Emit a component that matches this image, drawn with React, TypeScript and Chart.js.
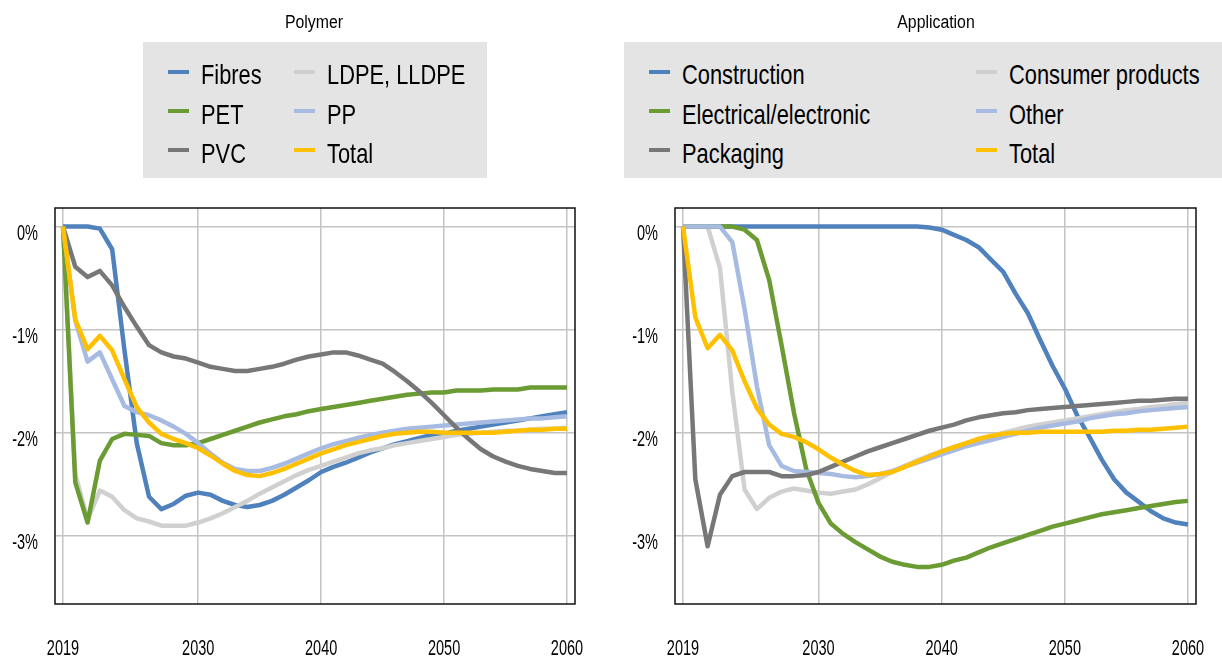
import React, { useEffect, useRef } from "react";
import { Chart, registerables } from "chart.js";

Chart.register(...registerables);

// ---------- data ----------
const years = [
  2019, 2020, 2021, 2022, 2023, 2024, 2025, 2026, 2027, 2028, 2029, 2030, 2031, 2032,
  2033, 2034, 2035, 2036, 2037, 2038, 2039, 2040, 2041, 2042, 2043, 2044, 2045, 2046,
  2047, 2048, 2049, 2050, 2051, 2052, 2053, 2054, 2055, 2056, 2057, 2058, 2059, 2060,
];
const xTickValues = [2019, 2030, 2040, 2050, 2060];
const yTickValues = [0, -1, -2, -3];

// Polymer panel
const fibres = [0, 0, 0, -0.02, -0.22, -1.2, -2.1, -2.62, -2.74, -2.69, -2.61, -2.58, -2.6, -2.66, -2.7, -2.72, -2.7, -2.66, -2.6, -2.53, -2.46, -2.38, -2.33, -2.29, -2.24, -2.19, -2.15, -2.11, -2.08, -2.05, -2.02, -2.01, -1.98, -1.96, -1.94, -1.92, -1.9, -1.88, -1.86, -1.84, -1.82, -1.8];
const ldpe = [0, -2.4, -2.84, -2.56, -2.62, -2.75, -2.83, -2.86, -2.9, -2.9, -2.9, -2.87, -2.83, -2.78, -2.72, -2.66, -2.59, -2.53, -2.47, -2.41, -2.36, -2.32, -2.28, -2.24, -2.2, -2.17, -2.15, -2.12, -2.1, -2.08, -2.06, -2.04, -2.02, -2.01, -2.0, -1.99, -1.98, -1.98, -1.97, -1.96, -1.96, -1.95];
const pet = [0, -2.48, -2.87, -2.27, -2.06, -2.01, -2.02, -2.03, -2.1, -2.12, -2.12, -2.1, -2.06, -2.02, -1.98, -1.94, -1.9, -1.87, -1.84, -1.82, -1.79, -1.77, -1.75, -1.73, -1.71, -1.69, -1.67, -1.65, -1.63, -1.62, -1.61, -1.61, -1.59, -1.59, -1.59, -1.58, -1.58, -1.58, -1.56, -1.56, -1.56, -1.56];
const pp = [0, -0.91, -1.31, -1.22, -1.48, -1.74, -1.8, -1.83, -1.88, -1.94, -2.01, -2.1, -2.2, -2.29, -2.35, -2.37, -2.37, -2.34, -2.3, -2.25, -2.2, -2.15, -2.11, -2.08, -2.05, -2.02, -2.0, -1.98, -1.96, -1.95, -1.94, -1.93, -1.92, -1.91, -1.9, -1.89, -1.88, -1.87, -1.86, -1.86, -1.85, -1.84];
const pvc = [0, -0.39, -0.49, -0.43, -0.57, -0.78, -0.97, -1.15, -1.22, -1.26, -1.28, -1.32, -1.36, -1.38, -1.4, -1.4, -1.38, -1.36, -1.33, -1.29, -1.26, -1.24, -1.22, -1.22, -1.25, -1.29, -1.33, -1.41, -1.5, -1.6, -1.71, -1.83, -1.95, -2.06, -2.16, -2.23, -2.28, -2.32, -2.35, -2.37, -2.39, -2.39];
const totalPolymer = [0, -0.9, -1.19, -1.06, -1.2, -1.48, -1.75, -1.9, -2.01, -2.06, -2.1, -2.15, -2.22, -2.3, -2.37, -2.41, -2.42, -2.39, -2.35, -2.3, -2.25, -2.2, -2.16, -2.12, -2.09, -2.06, -2.03, -2.01, -2.0, -1.99, -1.99, -2.0, -2.0, -2.0, -2.0, -2.0, -1.99, -1.98, -1.97, -1.97, -1.96, -1.96];

// Application panel
const construction = [0, 0, 0, 0, 0, 0, 0, 0, 0, 0, 0, 0, 0, 0, 0, 0, 0, 0, 0, 0, -0.01, -0.03, -0.08, -0.13, -0.2, -0.32, -0.44, -0.65, -0.84, -1.1, -1.35, -1.57, -1.83, -2.04, -2.26, -2.45, -2.58, -2.67, -2.76, -2.83, -2.87, -2.89];
const consumer = [0, 0, 0, -0.4, -1.6, -2.55, -2.74, -2.63, -2.57, -2.54, -2.56, -2.58, -2.59, -2.57, -2.55, -2.5, -2.44, -2.38, -2.32, -2.27, -2.22, -2.18, -2.14, -2.1, -2.06, -2.03, -2.0, -1.97, -1.94, -1.92, -1.9, -1.88, -1.86, -1.84, -1.82, -1.8, -1.78, -1.77, -1.75, -1.74, -1.72, -1.71];
const electrical = [0, 0, 0, 0, 0, -0.03, -0.13, -0.52, -1.15, -1.8, -2.35, -2.68, -2.88, -2.98, -3.06, -3.13, -3.2, -3.25, -3.28, -3.3, -3.3, -3.28, -3.24, -3.21, -3.16, -3.11, -3.07, -3.03, -2.99, -2.95, -2.91, -2.88, -2.85, -2.82, -2.79, -2.77, -2.75, -2.73, -2.71, -2.69, -2.67, -2.66];
const other = [0, 0, 0, 0, -0.15, -0.8, -1.55, -2.12, -2.32, -2.37, -2.38, -2.39, -2.4, -2.42, -2.43, -2.42, -2.4, -2.37, -2.33, -2.29, -2.25, -2.21, -2.17, -2.13, -2.1, -2.07, -2.04, -2.01, -1.98, -1.95, -1.93, -1.91, -1.89, -1.86, -1.84, -1.82, -1.81, -1.79, -1.78, -1.77, -1.76, -1.75];
const packaging = [0, -2.45, -3.1, -2.6, -2.42, -2.38, -2.38, -2.38, -2.42, -2.42, -2.41, -2.38, -2.33, -2.28, -2.23, -2.18, -2.14, -2.1, -2.06, -2.02, -1.98, -1.95, -1.92, -1.88, -1.85, -1.83, -1.81, -1.8, -1.78, -1.77, -1.76, -1.75, -1.74, -1.73, -1.72, -1.71, -1.7, -1.69, -1.69, -1.68, -1.67, -1.67];
const totalApplication = [0, -0.88, -1.18, -1.05, -1.2, -1.5, -1.76, -1.92, -2.01, -2.04, -2.09, -2.16, -2.24, -2.31, -2.37, -2.41, -2.4, -2.38, -2.33, -2.28, -2.23, -2.18, -2.14, -2.1, -2.06, -2.03, -2.01, -2.0, -2.0, -1.99, -1.99, -1.99, -1.99, -1.99, -1.99, -1.98, -1.98, -1.97, -1.97, -1.96, -1.95, -1.94];

const polymerLabels = ["Fibres", "LDPE, LLDPE", "PET", "PP", "PVC", "Total"];
const polymerSeries = [fibres, ldpe, pet, pp, pvc, totalPolymer];
const applicationLabels = ["Construction", "Consumer products", "Electrical/electronic", "Other", "Packaging", "Total"];
const applicationSeries = [construction, consumer, electrical, other, packaging, totalApplication];
const seriesColors = ["#4f81bd", "#d0d0d0", "#6b9b33", "#a7bbe2", "#777777", "#ffc000"];

// ---------- styling ----------
const FONT = '"Liberation Sans", Arial, Helvetica, sans-serif';
const LABEL_SCALE = 0.66;

const frameAndLabels = {
  id: "frameAndLabels",
  afterDraw(chart: any) {
    const { ctx, chartArea: a } = chart;
    const xs = chart.scales.x;
    const ys = chart.scales.y;
    ctx.save();
    ctx.strokeStyle = "#111";
    ctx.lineWidth = 1.5;
    ctx.strokeRect(a.left, a.top, a.right - a.left, a.bottom - a.top);
    ctx.fillStyle = "#000";
    ctx.font = `22px ${FONT}`;
    ctx.textBaseline = "alphabetic";
    ctx.textAlign = "right";
    for (const t of ys.ticks) {
      const py = ys.getPixelForValue(t.value);
      ctx.save();
      ctx.translate(a.left - 17, py + 13);
      ctx.scale(LABEL_SCALE, 1);
      ctx.fillText(`${t.value}%`, 0, 0);
      ctx.restore();
    }
    ctx.textAlign = "center";
    for (const t of xs.ticks) {
      const px = xs.getPixelForValue(t.value);
      ctx.save();
      ctx.translate(px, a.bottom + 50.5);
      ctx.scale(LABEL_SCALE, 1);
      ctx.fillText(String(t.value), 0, 0);
      ctx.restore();
    }
    ctx.restore();
  },
};

type PanelProps = {
  left: number;
  padLeft: number;
  padRight: number;
  labels: string[];
  series: number[][];
};

function Panel({ left, padLeft, padRight, labels, series }: PanelProps) {
  const ref = useRef<HTMLCanvasElement>(null);
  useEffect(() => {
    const n = series.length;
    const chart = new Chart(ref.current as HTMLCanvasElement, {
      type: "line",
      data: {
        datasets: series.map((vals, i) => ({
          label: labels[i],
          data: years.map((yr, k) => ({ x: yr, y: vals[k] })),
          borderColor: seriesColors[i],
          backgroundColor: seriesColors[i],
          borderWidth: 4.5,
          pointRadius: 0,
          tension: 0,
          fill: false,
          borderJoinStyle: "round",
          borderCapStyle: "butt",
          order: n - 1 - i,
        })),
      },
      options: {
        animation: false,
        responsive: false,
        maintainAspectRatio: false,
        layout: { padding: { left: padLeft, right: padRight, top: 208, bottom: 55 } },
        plugins: { legend: { display: false }, title: { display: false }, tooltip: { enabled: false } },
        scales: {
          x: {
            type: "linear",
            min: 2018.35,
            max: 2060.65,
            afterBuildTicks: (scale: any) => {
              scale.ticks = xTickValues.map((v) => ({ value: v }));
            },
            ticks: { display: false },
            grid: { color: "#c4c4c4", lineWidth: 1.5, drawTicks: false },
            border: { display: false },
          },
          y: {
            type: "linear",
            min: -3.66,
            max: 0.18,
            afterBuildTicks: (scale: any) => {
              scale.ticks = yTickValues.map((v) => ({ value: v }));
            },
            ticks: { display: false },
            grid: { color: "#c4c4c4", lineWidth: 1.5, drawTicks: false },
            border: { display: false },
          },
        },
      },
      plugins: [frameAndLabels],
    } as any);
    return () => chart.destroy();
  }, []);
  return (
    <canvas
      ref={ref}
      width={611}
      height={659}
      style={{ position: "absolute", left, top: 0, width: 611, height: 659 }}
    />
  );
}

type LegendProps = {
  title: string;
  titleCenter: number;
  boxLeft: number;
  boxWidth: number;
  col1: number;
  col2: number;
  labels: string[];
};

const ROW_CENTERS = [75, 114.3, 153.6];

function Legend({ title, titleCenter, boxLeft, boxWidth, col1, col2, labels }: LegendProps) {
  return (
    <>
      <div
        style={{
          position: "absolute",
          left: titleCenter - 100,
          width: 200,
          top: 12.5,
          fontFamily: FONT,
          fontSize: 18,
          lineHeight: "18px",
          textAlign: "center",
          color: "#000",
          transform: "scaleX(0.88)",
          transformOrigin: "center",
          whiteSpace: "nowrap",
        }}
      >
        {title}
      </div>
      <div
        style={{
          position: "absolute",
          left: boxLeft,
          top: 42,
          width: boxWidth,
          height: 136,
          background: "#e4e4e4",
        }}
      />
      {labels.map((lab, i) => {
        const row = Math.floor(i / 2);
        const cx = i % 2 === 0 ? col1 : col2;
        const cy = ROW_CENTERS[row];
        return (
          <React.Fragment key={lab}>
            <div
              style={{
                position: "absolute",
                left: cx,
                top: cy - 3.5 - 2,
                width: 21,
                height: 4,
                background: seriesColors[i],
              }}
            />
            <div
              style={{
                position: "absolute",
                left: cx + 32.5,
                top: cy - 13.7,
                fontFamily: FONT,
                fontSize: 28,
                lineHeight: "28px",
                color: "#000",
                whiteSpace: "nowrap",
                transform: "scaleX(0.78)",
                transformOrigin: "left center",
              }}
            >
              {lab}
            </div>
          </React.Fragment>
        );
      })}
    </>
  );
}

export default function App() {
  return (
    <div
      style={{
        position: "absolute",
        left: 0,
        top: 0,
        width: 1222,
        height: 659,
        background: "#fff",
        overflow: "hidden",
      }}
    >
      <Panel left={0} padLeft={55} padRight={36} labels={polymerLabels} series={polymerSeries} />
      <Panel left={611} padLeft={64} padRight={26} labels={applicationLabels} series={applicationSeries} />
      <Legend
        title="Polymer"
        titleCenter={314}
        boxLeft={143}
        boxWidth={344}
        col1={168}
        col2={294}
        labels={polymerLabels}
      />
      <Legend
        title="Application"
        titleCenter={936}
        boxLeft={624}
        boxWidth={598}
        col1={649}
        col2={976}
        labels={applicationLabels}
      />
    </div>
  );
}
